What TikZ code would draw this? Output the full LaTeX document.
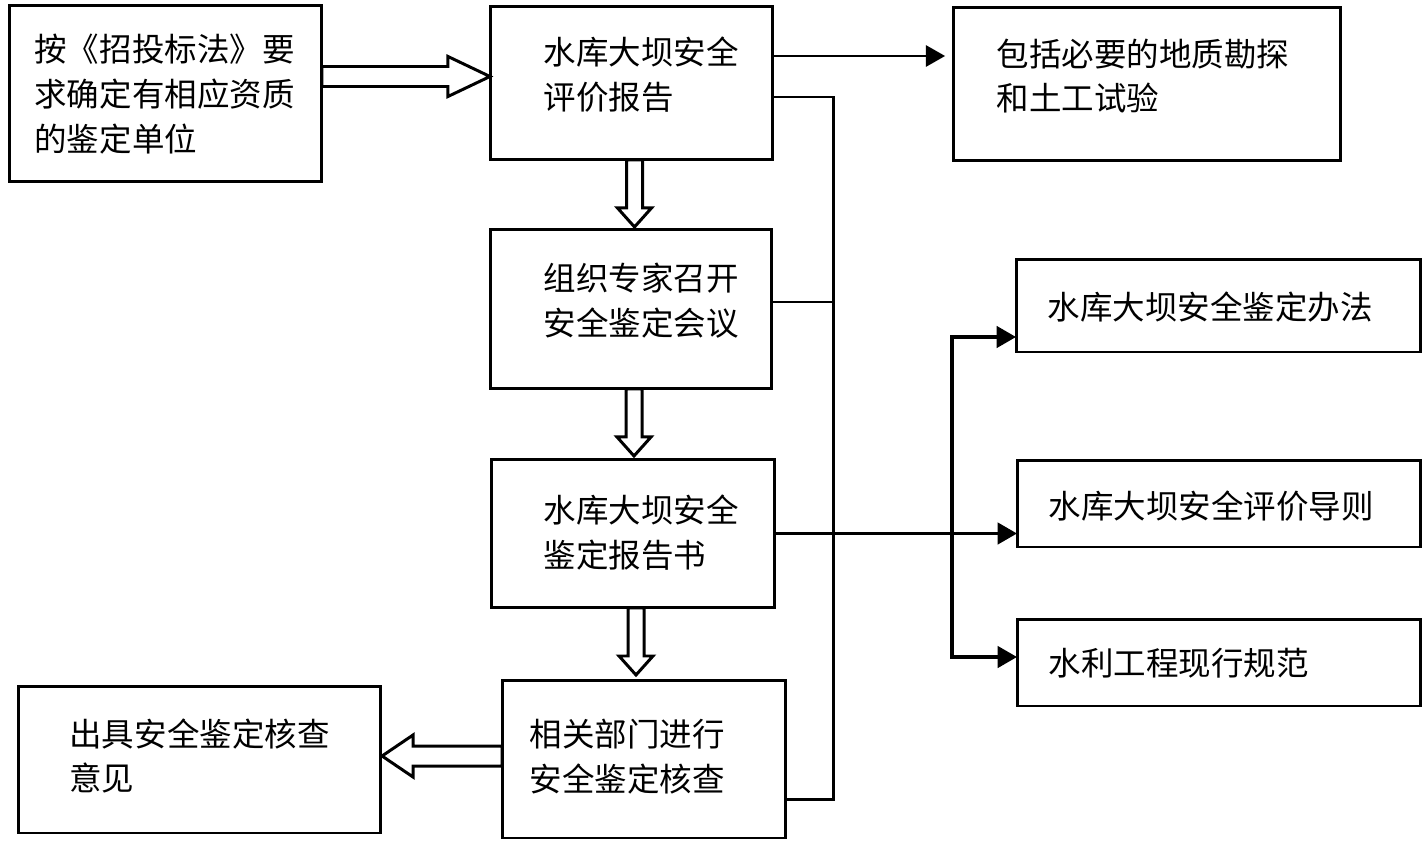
\documentclass[tikz,border=0pt]{standalone}
\usepackage{fontspec}
\setmainfont{Noto Sans CJK SC}
\usetikzlibrary{arrows.meta}
\begin{document}
\begin{tikzpicture}
[x=0.02cm, y=-0.02cm, line width=1.7pt,
 box/.style={draw, inner sep=0pt, outer sep=0pt},
 txt/.style={anchor=west, align=left, inner sep=0pt, font=\fontsize{18.5pt}{25.5pt}\selectfont},
 flow/.style={-{Triangle[length=11pt,width=12pt]}},
 bothflow/.style={{Triangle[length=11pt,width=12pt]}-{Triangle[length=11pt,width=12pt]}},
 hollow/.style={fill=white, line join=miter}]
\useasboundingbox (0,0) rectangle (1425,841);
% boxes
\node[box, minimum width=6.26cm, minimum height=3.54cm] (a) at (165.5,93.5) {};
\node[box, minimum width=5.66cm, minimum height=3.08cm] (b) at (631.5,83) {};
\node[box, minimum width=7.76cm, minimum height=3.08cm] (c) at (1147,84) {};
\node[box, minimum width=5.64cm, minimum height=3.2cm] (d) at (631,309) {};
\node[box, minimum width=5.68cm, minimum height=2.98cm] (e) at (633,533.5) {};
\node[box, minimum width=5.68cm, minimum height=3.16cm] (f) at (644,759) {};
\node[box, minimum width=7.26cm, minimum height=2.94cm] (g) at (199.5,759.5) {};
\node[box, minimum width=8.1cm, minimum height=1.86cm] (h) at (1218.5,305.5) {};
\node[box, minimum width=8.08cm, minimum height=1.74cm] (i) at (1219,503.5) {};
\node[box, minimum width=8.08cm, minimum height=1.74cm] (j) at (1219,662.5) {};
% texts
\node[txt] (ta) at (33,94) {按《招投标法》要\\求确定有相应资质\\的鉴定单位};
\node[txt] (tb) at (542,75) {水库大坝安全\\评价报告};
\node[txt] (tc) at (995,76) {包括必要的地质勘探\\和土工试验};
\node[txt] (td) at (542,301) {组织专家召开\\安全鉴定会议};
\node[txt] (te) at (542,533) {水库大坝安全\\鉴定报告书};
\node[txt] (tf) at (528,757) {相关部门进行\\安全鉴定核查};
\node[txt] (tg) at (68,756) {出具安全鉴定核查\\意见};
\node[txt] (th) at (1046,307) {水库大坝安全鉴定办法};
\node[txt] (ti) at (1047,506) {水库大坝安全评价导则};
\node[txt] (tj) at (1047,663) {水利工程现行规范};
% hollow arrows
\draw[hollow] (a.east) ++(0,-27) -- ++(126,0) -- ++(0,-10) -- ++(42,20) -- ++(-42,20) -- ++(0,-10) -- ++(-126,0) -- cycle;
\foreach \from in {b,d,e}
  \draw[hollow] (\from.south) ++(-5,0) -- ++(0,48) -- ++(-9,0) -- ++(17,19) -- ++(17,-19) -- ++(-9,0) -- ++(0,-48) -- cycle;
\draw[hollow] (f.west) ++(0,-13) -- ++(-89,0) -- ++(0,-11) -- ++(-31,21) -- ++(31,21) -- ++(0,-11) -- ++(89,0) -- cycle;
% lines
\coordinate (p0) at (800,56);
\coordinate (p1) at (833,97);
\coordinate (p2) at (833,302);
\coordinate (p3) at (833,799);
\draw[flow, shorten >=4.5pt] (p0 -| b.east) -- (p0 -| c.west);
\draw (p1 -| b.east) -- (p1) -- (p3) -- (p3 -| f.east);
\draw (p2 -| d.east) -- (p2);
\coordinate (q1) at (952,337);
\coordinate (q2) at (952,657);
\draw[flow, line width=2.2pt] (e.east) -- (e.east -| i.west);
\draw[bothflow, line width=2.2pt] (q1 -| h.west) -- (q1) -- (q2) -- (q2 -| j.west);
\end{tikzpicture}
\end{document}
